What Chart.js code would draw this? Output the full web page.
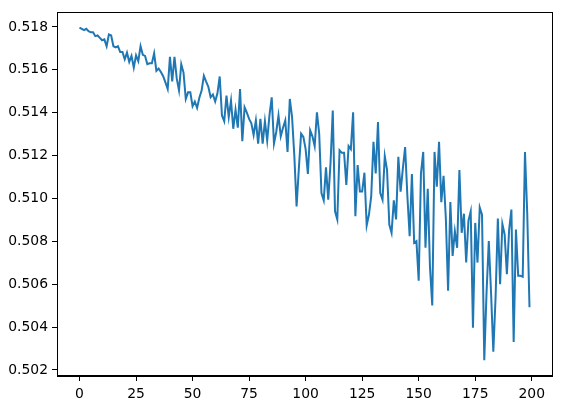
<!DOCTYPE html>
<html>
<head>
<meta charset="utf-8">
<script src="https://cdn.jsdelivr.net/npm/chart.js@4/dist/chart.umd.min.js"></script>
<style>
  html, body { margin: 0; padding: 0; background: #fff; }
  #wrap { width: 561px; height: 408px; }
</style>
</head>
<body>
<div id="wrap"><canvas id="myChart"></canvas></div>
<script>
// values, one per step (0..199)
const values = [
  0.51797, 0.51791, 0.51785, 0.51791, 0.51780, 0.51775, 0.51775, 0.51757, 0.51760, 0.51749,
  0.51738, 0.51742, 0.51710, 0.51765, 0.51760, 0.51710, 0.51705, 0.51710, 0.51683, 0.51683,
  0.51649, 0.51680, 0.51637, 0.51665, 0.51610, 0.51667, 0.51640, 0.51710, 0.51670, 0.51665,
  0.51626, 0.51630, 0.51630, 0.51677, 0.51595, 0.51606, 0.51590, 0.51570, 0.51541, 0.51510,
  0.51661, 0.51546, 0.51660, 0.51560, 0.51504, 0.51626, 0.51587, 0.51464, 0.51495, 0.51495,
  0.51430, 0.51452, 0.51422, 0.51470, 0.51503, 0.51572, 0.51545, 0.51520, 0.51472, 0.51485,
  0.51452, 0.51490, 0.51569, 0.51387, 0.51360, 0.51480, 0.51380, 0.51456, 0.51325, 0.51414,
  0.51330, 0.51510, 0.51267, 0.51425, 0.51400, 0.51371, 0.51350, 0.51296, 0.51364, 0.51256,
  0.51371, 0.51256, 0.51360, 0.51270, 0.51387, 0.51472, 0.51256, 0.51310, 0.51387, 0.51290,
  0.51330, 0.51364, 0.51217, 0.51464, 0.51380, 0.51200, 0.50963, 0.51140, 0.51302, 0.51287,
  0.51230, 0.51114, 0.51318, 0.51290, 0.51244, 0.51402, 0.51302, 0.51025, 0.50991, 0.51145,
  0.50994, 0.51163, 0.51410, 0.50940, 0.50902, 0.51225, 0.51213, 0.51213, 0.51063, 0.51244,
  0.51230, 0.51402, 0.50917, 0.51156, 0.51032, 0.51032, 0.51120, 0.50874, 0.50925, 0.51010,
  0.51264, 0.51117, 0.51356, 0.51025, 0.50994, 0.51197, 0.51133, 0.50878, 0.50840, 0.50991,
  0.50902, 0.51194, 0.51032, 0.51140, 0.51240, 0.51010, 0.50824, 0.51114, 0.50793, 0.50801,
  0.50616, 0.51117, 0.51217, 0.50770, 0.51045, 0.50678, 0.50501, 0.51217, 0.51055, 0.51264,
  0.50983, 0.51106, 0.50909, 0.50570, 0.50983, 0.50732, 0.50847, 0.50770, 0.51133, 0.50840,
  0.50929, 0.50701, 0.50897, 0.50940, 0.50397, 0.50886, 0.50701, 0.50958, 0.50925, 0.50246,
  0.50560, 0.50801, 0.50560, 0.50285, 0.50539, 0.50906, 0.50600, 0.50881, 0.50832, 0.50647,
  0.50855, 0.50948, 0.50331, 0.50855, 0.50639, 0.50639, 0.50635, 0.51217, 0.50930, 0.50493
]
const steps = values.map( ( v, i ) => i )

const xTicks = [0, 25, 50, 75, 100, 125, 150, 175, 200]
const yTicks = [0.502, 0.504, 0.506, 0.508, 0.510, 0.512, 0.514, 0.516, 0.518]

const font = { family: 'DejaVu Sans', size: 13.9 }

// box round the plot, like the axes frame
const frame = {
  id: 'frame',
  afterDraw( chart ) {
    const { ctx, chartArea: a } = chart
    ctx.save()
    ctx.strokeStyle = '#000'
    ctx.lineWidth = 1
    ctx.strokeRect( Math.round( a.left ) + 0.5, Math.round( a.top ) + 0.5,
      Math.round( a.right - a.left ), Math.round( a.bottom - a.top ) )
    ctx.restore()
  }
}

const ctx = document.getElementById( 'myChart' ).getContext( '2d' )

new Chart( ctx, {
  type: 'line',
  data: {
    datasets: [{
      data: steps.map( ( s, i ) => ( { x: s, y: values[i] } ) ),
      borderColor: '#1f77b4',
      borderWidth: 2,
      pointRadius: 0,
      fill: false,
      tension: 0
    }]
  },
  options: {
    responsive: true,
    maintainAspectRatio: false,
    animation: false,
    layout: { padding: { left: 0, right: 9, top: 10, bottom: 0 } },
    plugins: {
      legend: { display: false },
      tooltip: { enabled: false }
    },
    scales: {
      x: {
        type: 'linear',
        min: -9.95,
        max: 208.95,
        afterBuildTicks: scale => { scale.ticks = xTicks.map( v => ( { value: v } ) ) },
        afterFit: scale => { scale.height = 32 },
        grid: { drawOnChartArea: false, drawTicks: true, tickLength: 5, color: '#000' },
        border: { display: true, color: '#000' },
        ticks: { color: '#000', font: font, padding: 5, maxRotation: 0 }
      },
      y: {
        type: 'linear',
        min: 0.50172,
        max: 0.51868,
        afterBuildTicks: scale => { scale.ticks = yTicks.map( v => ( { value: v } ) ) },
        afterFit: scale => { scale.width = 57 },
        grid: { drawOnChartArea: false, drawTicks: true, tickLength: 5, color: '#000' },
        border: { display: true, color: '#000' },
        ticks: { color: '#000', font: font, padding: 4, callback: v => v.toFixed( 3 ) }
      }
    }
  },
  plugins: [ frame ]
})
</script>
</body>
</html>
